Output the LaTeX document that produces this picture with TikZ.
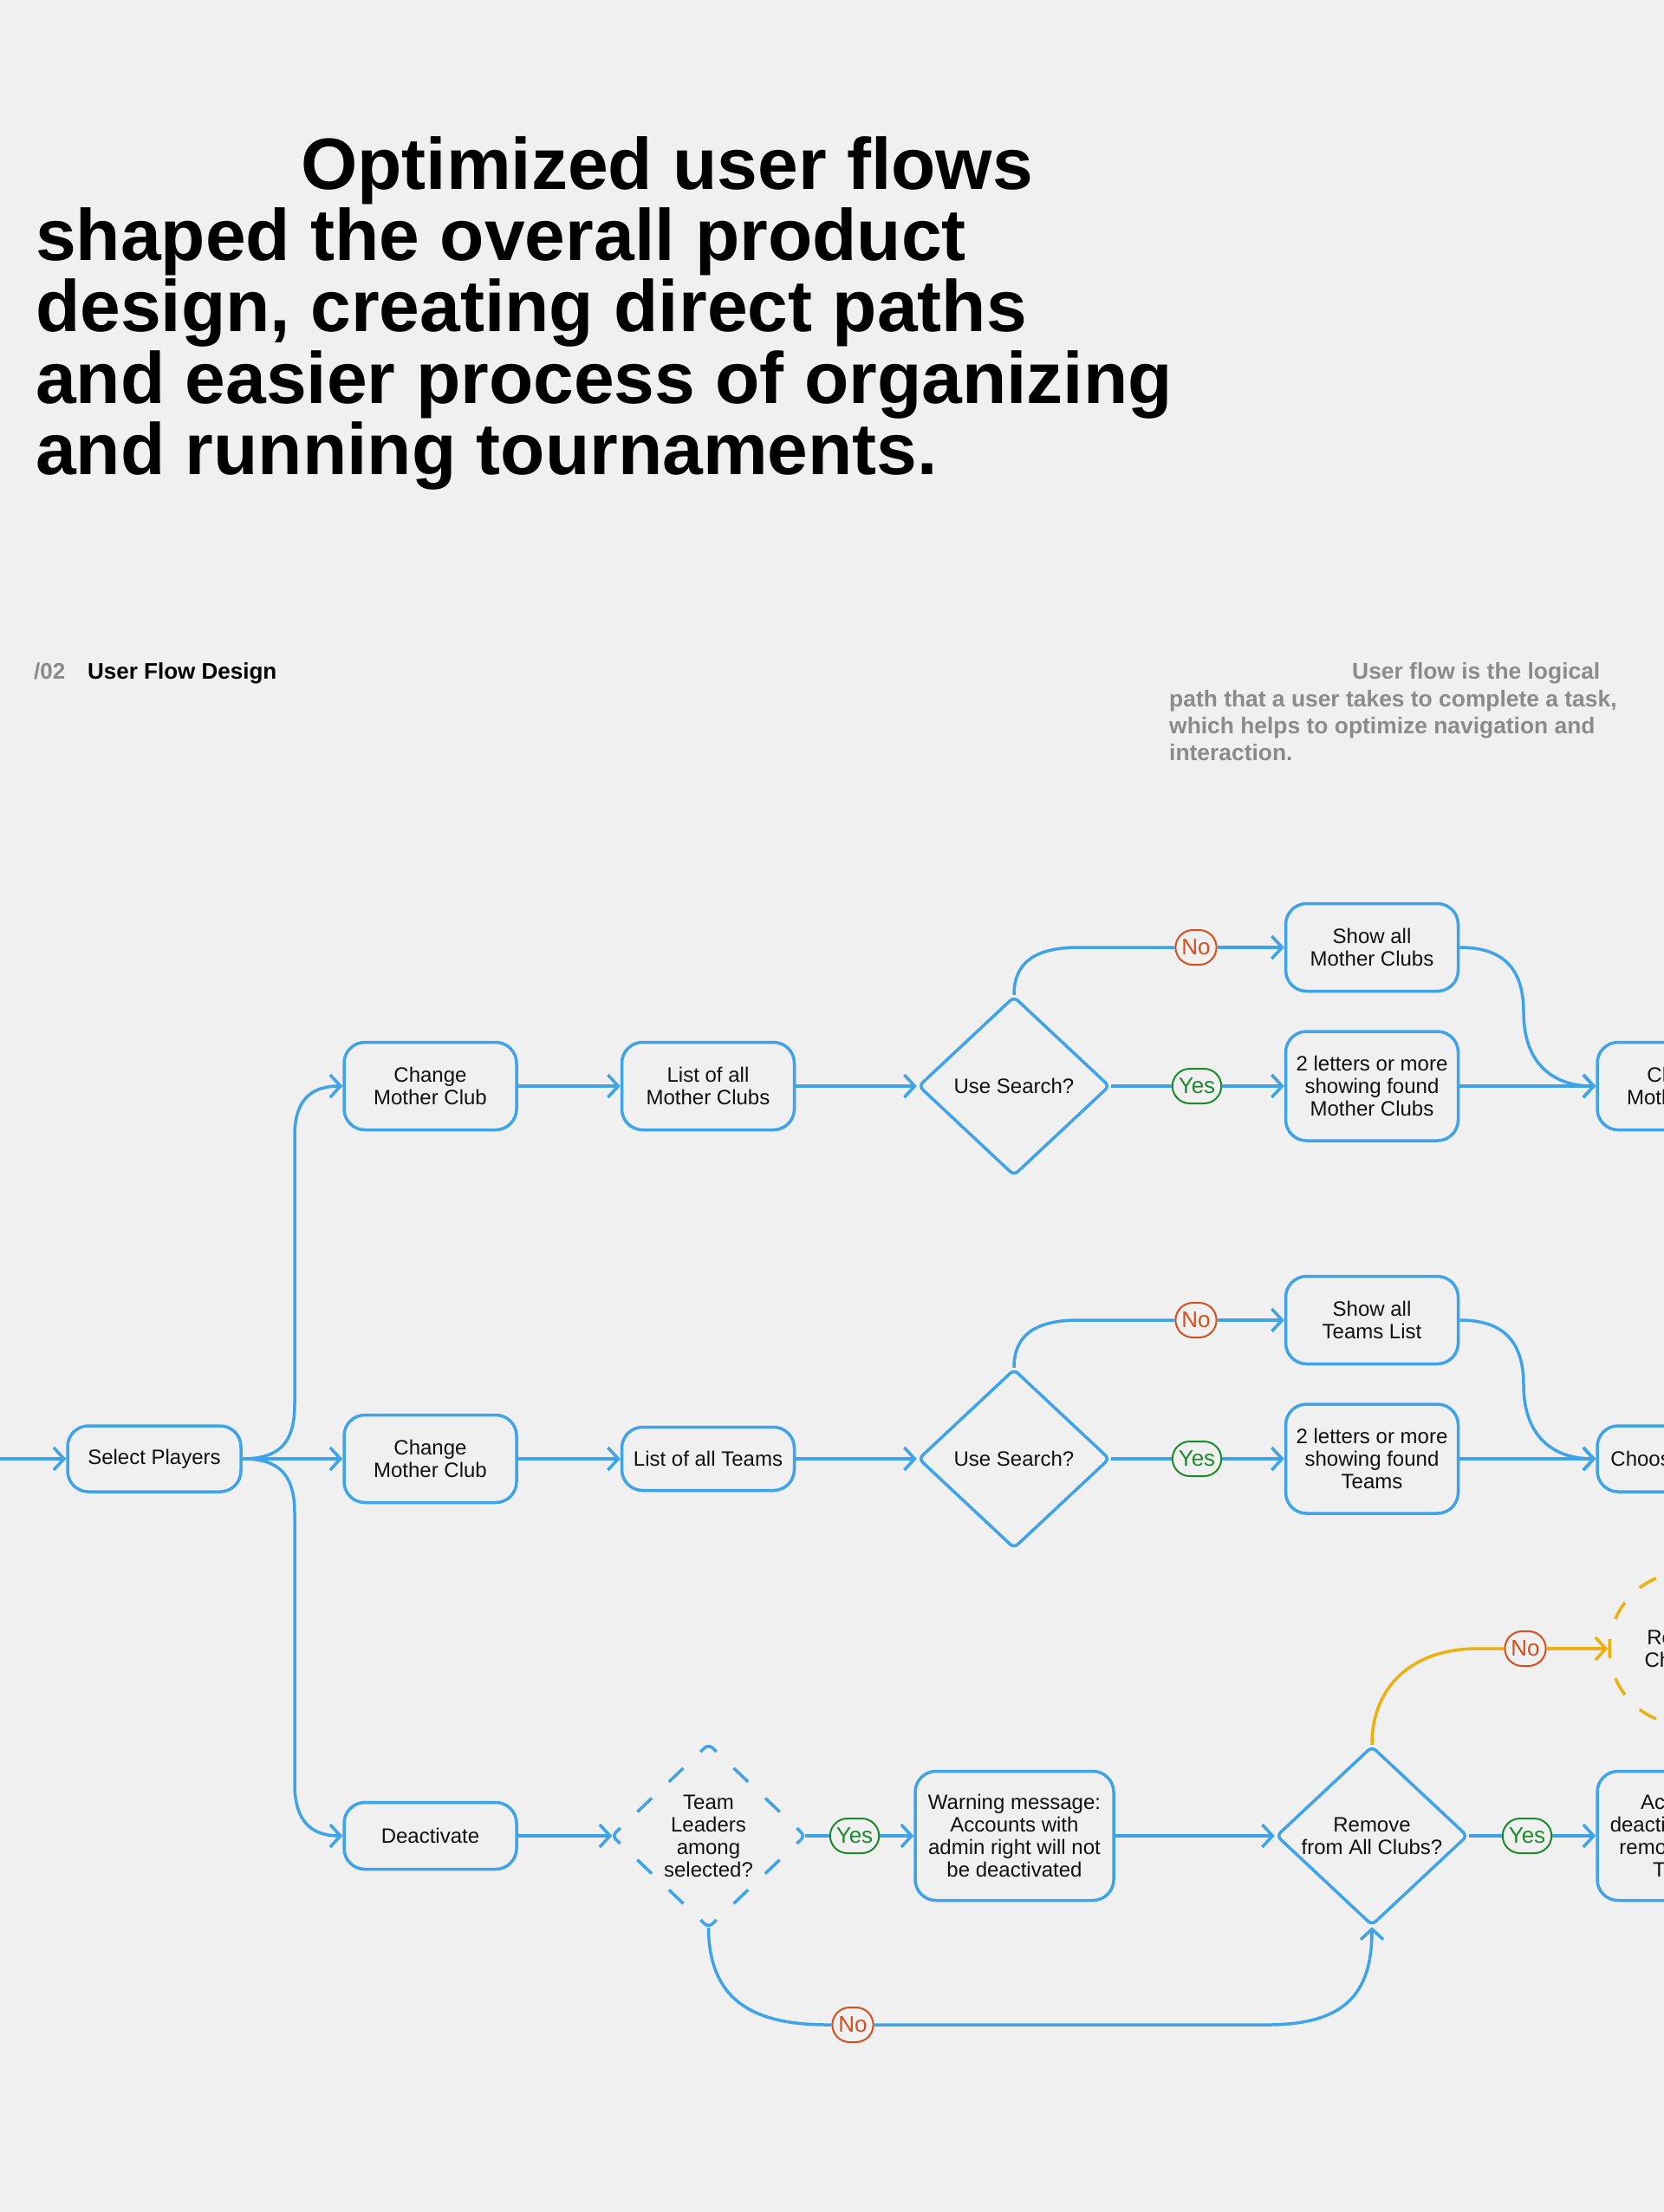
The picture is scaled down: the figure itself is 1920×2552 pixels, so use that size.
\documentclass[tikz,border=0pt]{standalone}
\usepackage{fontspec}
\setmainfont{Liberation Sans}
\usetikzlibrary{shapes.geometric,arrows.meta,calc}
\definecolor{bg}{HTML}{F0F0F0}
\definecolor{fblue}{HTML}{3FA3EA}
\definecolor{fgreen}{HTML}{1E8A2E}
\definecolor{fred}{HTML}{D5501C}
\definecolor{fyellow}{HTML}{EEB00F}
\definecolor{fgray}{HTML}{8B8B8B}
\definecolor{ink}{HTML}{111111}
\newcommand{\nodefont}{\fontsize{24}{26}\selectfont}
\newcommand{\labfont}{\fontsize{26}{26}\selectfont}
\newcommand{\titlefont}{\fontsize{84}{84}\selectfont\bfseries}
\begin{document}
\begin{tikzpicture}[x=1pt,y=-1pt,
  box/.style={draw=fblue, fill=bg, line width=3.5pt, rounded corners=24pt, minimum width=199pt, minimum height=101pt, align=center, font=\nodefont, text=ink, inner sep=0pt},
  dia/.style={shape=diamond, draw=fblue, fill=bg, line width=3.5pt, rounded corners=6pt, minimum width=221pt, minimum height=207pt, inner sep=0pt, align=center, font=\nodefont, text=ink},
  lab/.style={rounded corners=20pt, minimum height=40pt, inner xsep=7pt, inner ysep=0pt, fill=bg, line width=2pt, font=\labfont},
  nolab/.style={lab, draw=fred, text=fred},
  yeslab/.style={lab, draw=fgreen, text=fgreen},
  conn/.style={draw=fblue, line width=3.5pt},
  yconn/.style={draw=fyellow, line width=3.5pt},
  arr/.style={-{Straight Barb[length=12pt,width=26pt]}},
  dashside/.style={draw=fblue, line width=3.5pt, rounded corners=6pt, dash pattern=on 23pt off 27.3pt, dash phase=36.65pt},
  title/.style={anchor=base west, font=\titlefont, text=black, inner sep=0pt},
  para/.style={anchor=base west, font=\fontsize{26.4}{26.4}\selectfont\bfseries, text=fgray, inner sep=0pt}
]
\fill[bg] (0,0) rectangle (1920,2552);
\useasboundingbox (0,0) rectangle (1920,2552);

% title
\node[title] (t1) at (347,218) {Optimized user flows};
\node[title] (t2) at (41,300) {shaped the overall product};
\node[title] (t3) at (41,382) {design, creating direct paths};
\node[title] (t4) at (41,465) {and easier process of organizing};
\node[title] (t5) at (41,547) {and running tournaments.};

% header
\node[anchor=base west, font=\fontsize{26}{26}\selectfont\bfseries, text=fgray, inner sep=0pt] (h02) at (39,783) {/02};
\node[anchor=base west, font=\fontsize{26}{26}\selectfont\bfseries, text=black, inner sep=0pt] (hufd) at (101,783) {User Flow Design};
\node[para] (p1) at (1560,783) {User flow is the logical};
\node[para] (p2) at (1349,815) {path that a user takes to complete a task,};
\node[para] (p3) at (1349,846) {which helps to optimize navigation and};
\node[para] (p4) at (1349,877) {interaction.};

% nodes
\coordinate (entry) at (0,1683);
\node[box, minimum width=200pt, minimum height=76pt] (sp) at (178,1683) {Select Players};

\node[box] (cmc1) at (496.5,1253) {Change\\Mother Club};
\node[box] (lmc) at (817,1253) {List of all\\Mother Clubs};
\node[dia] (us1) at (1170,1253) {Use Search?};
\node[nolab] (no1) at (1380,1093) {No};
\node[yeslab] (yes1) at (1381,1253) {Yes};
\node[box] (sam) at (1583,1093) {Show all\\Mother Clubs};
\node[box, minimum height=126pt] (lmc2) at (1583,1253) {2 letters or more\\showing found\\Mother Clubs};
\node[box] (cmc1r) at (1942.5,1253) {Change\\Mother Club};

\node[box] (cmc2) at (496.5,1683) {Change\\Mother Club};
\node[box, minimum height=73pt] (lat) at (817,1683) {List of all Teams};
\node[dia] (us2) at (1170,1683) {Use Search?};
\node[nolab] (no2) at (1380,1523) {No};
\node[yeslab] (yes2) at (1381,1683) {Yes};
\node[box] (sat) at (1583,1523) {Show all\\Teams List};
\node[box, minimum height=126pt] (lt2) at (1583,1683) {2 letters or more\\showing found\\Teams};
\node[box, minimum height=76pt] (ct) at (1942.5,1683) {Choose a Team};

\node[box, minimum height=77pt] (deac) at (496.5,2118) {Deactivate};
\node[dia, draw=none, minimum width=219pt, minimum height=208pt] (tl) at (817.5,2118) {Team\\Leaders\\among\\selected?};
\draw[dashside] ($(tl.west)!0.5!(tl.north)$) -- (tl.north) -- ($(tl.north)!0.5!(tl.east)$);
\draw[dashside] ($(tl.north)!0.5!(tl.east)$) -- (tl.east) -- ($(tl.east)!0.5!(tl.south)$);
\draw[dashside] ($(tl.east)!0.5!(tl.south)$) -- (tl.south) -- ($(tl.south)!0.5!(tl.west)$);
\draw[dashside] ($(tl.south)!0.5!(tl.west)$) -- (tl.west) -- ($(tl.west)!0.5!(tl.north)$);
\node[yeslab] (yes3) at (986,2118) {Yes};
\node[box, minimum width=229pt, minimum height=149pt] (warn) at (1170.5,2118) {Warning message:\\Accounts with\\admin right will not\\be deactivated};
\node[dia] (rem) at (1583,2118) {Remove\\from All Clubs?};
\node[yeslab] (yes4) at (1762,2118) {Yes};
\node[nolab] (no4) at (1760,1902) {No};
\node[circle, draw=fyellow, line width=3.5pt, dash pattern=on 22pt off 24.08pt, dash phase=11pt, minimum size=176pt, inner sep=0pt, align=center, font=\nodefont, text=ink] (rc) at (1945,1902) {Remove\\Checked};
\node[box, minimum width=199pt, minimum height=149pt] (acc) at (1942.5,2118) {Accounts\\deactivated and\\removed from\\Teams};
\node[nolab] (no3) at (984,2336) {No};

% connectors
\draw[conn, arr] (entry) -- (sp.west);
\draw[conn, arr] (sp.east) .. controls (322,1683) and (340,1665) .. (340,1620) -- (340,1310) .. controls (340,1270) and (358,1253) .. (cmc1.west);
\draw[conn, arr] (sp.east) -- (cmc2.west);
\draw[conn, arr] (sp.east) .. controls (322,1683) and (340,1701) .. (340,1746) -- (340,2058) .. controls (340,2100) and (358,2118) .. (deac.west);

% top row
\draw[conn, arr] (cmc1.east) -- (lmc.west);
\draw[conn, arr] (lmc.east) -- (us1.west);
\draw[conn] (us1.north) .. controls (1170,1112) and (1192,1093) .. (1245,1093) -- (no1.west);
\draw[conn, arr] (no1.east) -- (sam.west);
\draw[conn] (us1.east) -- (yes1.west);
\draw[conn, arr] (yes1.east) -- (lmc2.west);
\draw[conn, arr] (sam.east) .. controls (1735,1093) and (1758,1118) .. (1758,1168) .. controls (1758,1225) and (1790,1253) .. (cmc1r.west);
\draw[conn, arr] (lmc2.east) -- (cmc1r.west);

% middle row
\draw[conn, arr] (cmc2.east) -- (lat.west);
\draw[conn, arr] (lat.east) -- (us2.west);
\draw[conn] (us2.north) .. controls (1170,1542) and (1192,1523) .. (1245,1523) -- (no2.west);
\draw[conn, arr] (no2.east) -- (sat.west);
\draw[conn] (us2.east) -- (yes2.west);
\draw[conn, arr] (yes2.east) -- (lt2.west);
\draw[conn, arr] (sat.east) .. controls (1735,1523) and (1758,1548) .. (1758,1598) .. controls (1758,1655) and (1790,1683) .. (ct.west);
\draw[conn, arr] (lt2.east) -- (ct.west);

% bottom row
\draw[conn, arr] (deac.east) -- (tl.west);
\draw[conn] (tl.east) -- (yes3.west);
\draw[conn, arr] (yes3.east) -- (warn.west);
\draw[conn, arr] (warn.east) -- (rem.west);
\draw[conn] (rem.east) -- (yes4.west);
\draw[conn, arr] (yes4.east) -- (acc.west);
\draw[yconn] (rem.north) .. controls (1583,1945) and (1630,1902) .. (1705,1902) -- (no4.west);
\draw[yconn, arr] (no4.east) -- (rc.west);
\draw[conn] (tl.south) .. controls (818,2305) and (865,2336) .. (955,2336) -- (no3.west);
\draw[conn, arr] (no3.east) -- (1462,2336) .. controls (1552,2336) and (1583,2300) .. (rem.south);
\end{tikzpicture}
\end{document}
